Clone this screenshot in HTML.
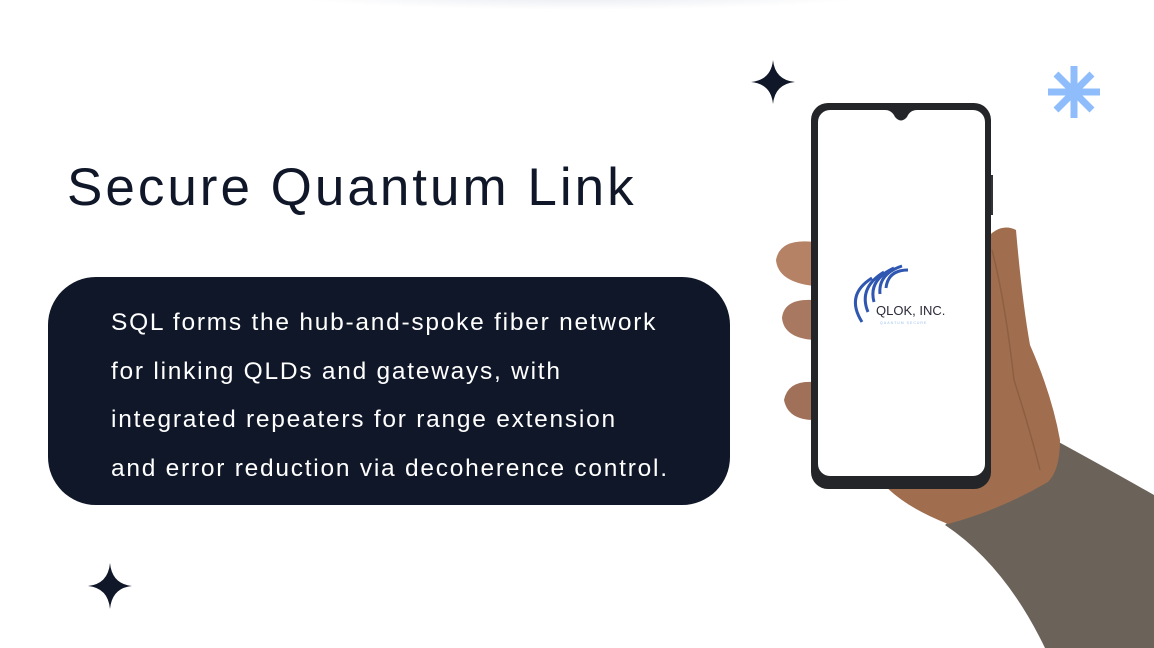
<!DOCTYPE html>
<html><head><meta charset="utf-8"><style>
html,body{margin:0;padding:0;}
body{width:1154px;height:648px;position:relative;overflow:hidden;background:#fff;font-family:"Liberation Sans",sans-serif;}
.shadow{position:absolute;left:280px;top:-20px;width:600px;height:30px;border-radius:50%;background:radial-gradient(ellipse at center,rgba(200,205,220,0.45),rgba(255,255,255,0) 70%);}
h1{position:absolute;left:67px;top:157px;margin:0;font-weight:400;font-size:53px;color:#0f1729;letter-spacing:3px;white-space:nowrap;}
.box{position:absolute;left:48px;top:277px;width:682px;height:228px;background:#0f1729;border-radius:48px;}
.box p{position:absolute;left:63px;top:22px;margin:0;color:#fff;font-size:24.5px;line-height:48.5px;letter-spacing:1.75px;white-space:nowrap;}
</style></head><body>
<div class="shadow"></div>
<h1>Secure Quantum Link</h1>
<div class="box"><p>SQL forms the hub-and-spoke fiber network<br>for linking QLDs and gateways, with<br>integrated repeaters for range extension<br>and error reduction via decoherence control.</p></div>
<svg width="1154" height="648" style="position:absolute;left:0;top:0">
<path d="M773 60 Q775 80 795 82 Q775 84 773 104 Q771 84 751 82 Q771 80 773 60Z" fill="#0f1729"/>
<path d="M110 563 Q112 584 132 586 Q112 588 110 609 Q108 588 88 586 Q108 584 110 563Z" fill="#0f1729"/>
<g stroke="#8fbcfb" stroke-width="7">
<line x1="1074" y1="66" x2="1074" y2="118"/>
<line x1="1048" y1="92" x2="1100" y2="92"/>
<line x1="1056" y1="74" x2="1092" y2="110"/>
<line x1="1092" y1="74" x2="1056" y2="110"/>
</g>
<path d="M945 525 Q1005 475 1055 440 Q1110 470 1154 495 L1154 648 L1045 648 Q1005 565 945 525Z" fill="#6b6259"/>
<path d="M985 240 Q1000 222 1016 230 Q1022 300 1030 345 Q1052 395 1060 440 Q1060 470 1048 482 Q1000 510 948 524 Q900 505 880 480 L985 480Z" fill="#a06e4f"/>
<path d="M992 250 Q1005 300 1014 380 Q1030 430 1040 470" stroke="#7a4f36" stroke-width="1.5" fill="none" opacity="0.5"/>
<path d="M814 242 Q780 238 776 260 Q778 282 814 286Z" fill="#b58265"/>
<path d="M814 300 Q784 298 782 318 Q784 338 814 340Z" fill="#a87860"/>
<path d="M814 382 Q788 380 784 400 Q788 420 814 420Z" fill="#a07058"/>
<rect x="811" y="103" width="180" height="386" rx="17" fill="#232528"/>
<rect x="818" y="110" width="167" height="366" rx="12" fill="#fff"/>
<path d="M885 110 Q892 110 895 117 Q901 124 907 117 Q910 110 917 110Z" fill="#232528"/>
<rect x="991" y="175" width="2" height="40" fill="#333"/>
<g fill="none" stroke="#2f56b0" stroke-width="3">
<path d="M862 322 Q845 295 872 278"/>
<path d="M868 312 Q858 288 884 272"/>
<path d="M874 302 Q868 280 894 268"/>
<path d="M880 294 Q878 274 902 266"/>
<path d="M886 288 Q888 270 908 270"/>
</g>
<text x="876" y="315" font-family="Liberation Sans,sans-serif" font-size="13" fill="#2a2a3a">QLOK, INC.</text>
<text x="880" y="324" font-family="Liberation Sans,sans-serif" font-size="3.5" fill="#9bbdf0" letter-spacing="1">QUANTUM SECURE</text>
</svg>
</body></html>
